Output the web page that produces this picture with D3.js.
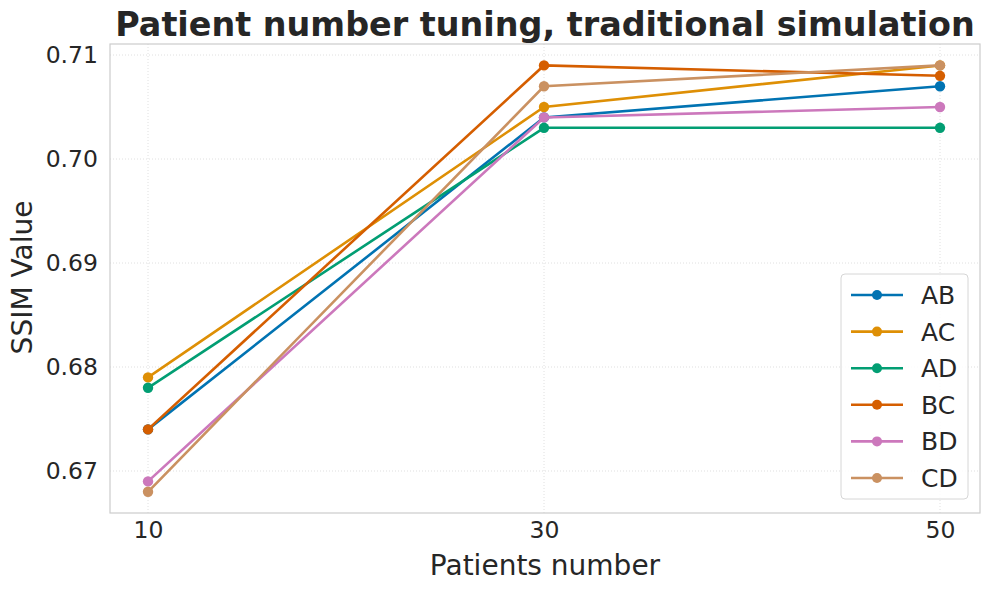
<!DOCTYPE html>
<html>
<head>
<meta charset="utf-8">
<script src="https://cdn.jsdelivr.net/npm/d3@7"></script>
<style>
  body { margin: 0; background: #fff; }
  text { font-family: "DejaVu Sans", sans-serif; fill: #262626; }
</style>
</head>
<body>
<div id="chart"></div>
<script>
var patients = [10, 30, 50];
var seriesNames = ["AB", "AC", "AD", "BC", "BD", "CD"];
var AB = [0.674, 0.704, 0.707];
var AC = [0.679, 0.705, 0.709];
var AD = [0.678, 0.703, 0.703];
var BC = [0.674, 0.709, 0.708];
var BD = [0.669, 0.704, 0.705];
var CD = [0.668, 0.707, 0.709];
var yTicks = [0.67, 0.68, 0.69, 0.70, 0.71];
var colors = ["#0173b2", "#de8f05", "#029e73", "#d55e00", "#cc78bc", "#ca9161"];

var seriesValues = [AB, AC, AD, BC, BD, CD];

var W = 989, H = 590;
var margin = { top: 44, right: 9, bottom: 77, left: 110 };
var width = W - margin.left - margin.right;
var height = H - margin.top - margin.bottom;

var svg = d3.select("#chart").append("svg")
    .attr("width", W)
    .attr("height", H);

var g = svg.append("g")
    .attr("transform", "translate(" + margin.left + "," + margin.top + ")");

var x = d3.scaleLinear().domain([8.08, 52.02]).range([0, width]);
var y = d3.scaleLinear().domain([0.66596, 0.71106]).range([height, 0]);

// grid
g.selectAll(".gx").data(patients).enter().append("line")
    .attr("x1", function(d) { return x(d); })
    .attr("x2", function(d) { return x(d); })
    .attr("y1", 0).attr("y2", height)
    .attr("stroke", "#d8d8d8").attr("stroke-width", 0.8)
    .attr("stroke-dasharray", "1,2");
g.selectAll(".gy").data(yTicks).enter().append("line")
    .attr("x1", 0).attr("x2", width)
    .attr("y1", function(d) { return y(d); })
    .attr("y2", function(d) { return y(d); })
    .attr("stroke", "#d8d8d8").attr("stroke-width", 0.8)
    .attr("stroke-dasharray", "1,2");

// frame
g.append("rect")
    .attr("width", width).attr("height", height)
    .attr("fill", "none").attr("stroke", "#cccccc").attr("stroke-width", 1.2);

// axes
var xAxis = g.append("g")
    .attr("transform", "translate(0," + height + ")")
    .call(d3.axisBottom(x).tickValues(patients).tickSize(0).tickPadding(8));
var yAxis = g.append("g")
    .call(d3.axisLeft(y).tickValues(yTicks).tickSize(0).tickPadding(12)
        .tickFormat(d3.format(".2f")));
[xAxis, yAxis].forEach(function(a) {
    a.select(".domain").remove();
    a.selectAll("text").attr("font-size", 23.5).attr("font-family", "DejaVu Sans").attr("fill", "#262626");
});

// lines
var line = d3.line()
    .x(function(d, i) { return x(patients[i]); })
    .y(function(d) { return y(d); });

var series = g.selectAll(".series").data(seriesValues).enter().append("g");
series.append("path")
    .attr("d", function(d) { return line(d); })
    .attr("fill", "none")
    .attr("stroke", function(d, i) { return colors[i]; })
    .attr("stroke-width", 2.6);
series.each(function(d, i) {
    d3.select(this).selectAll("circle").data(d).enter().append("circle")
        .attr("cx", function(v, j) { return x(patients[j]); })
        .attr("cy", function(v) { return y(v); })
        .attr("r", 5.2)
        .attr("fill", colors[i]);
});

// title and labels
svg.append("text")
    .attr("x", 545).attr("y", 36)
    .attr("text-anchor", "middle")
    .attr("font-size", 33.4).attr("font-weight", "bold")
    .text("Patient number tuning, traditional simulation");
svg.append("text")
    .attr("x", margin.left + width / 2).attr("y", 575)
    .attr("text-anchor", "middle")
    .attr("font-size", 28)
    .text("Patients number");
svg.append("text")
    .attr("transform", "translate(32," + (margin.top + height / 2 - 1) + ") rotate(-90)")
    .attr("text-anchor", "middle")
    .attr("font-size", 28)
    .text("SSIM Value");

// legend
var legend = svg.append("g").attr("transform", "translate(841,274)");
legend.append("rect")
    .attr("width", 127).attr("height", 225)
    .attr("rx", 4).attr("ry", 4)
    .attr("fill", "#ffffff").attr("fill-opacity", 0.85)
    .attr("stroke", "#d6d6d6").attr("stroke-width", 1);
var item = legend.selectAll(".item").data(seriesNames).enter().append("g")
    .attr("transform", function(d, i) { return "translate(0," + (21 + i * 36.6) + ")"; });
item.append("line")
    .attr("x1", 10).attr("x2", 62)
    .attr("stroke", function(d, i) { return colors[i]; })
    .attr("stroke-width", 2.6);
item.append("circle")
    .attr("cx", 36).attr("r", 5)
    .attr("fill", function(d, i) { return colors[i]; });
item.append("text")
    .attr("x", 80).attr("dy", "0.36em")
    .attr("font-size", 25)
    .text(function(d) { return d; });
</script>
</body>
</html>
